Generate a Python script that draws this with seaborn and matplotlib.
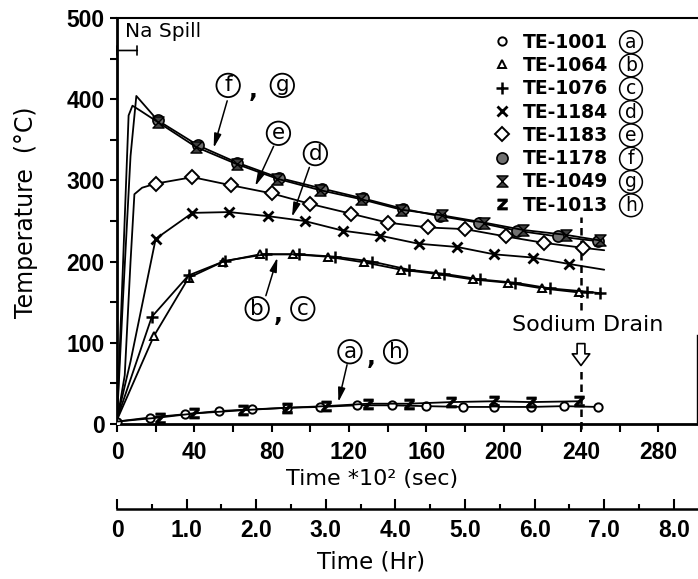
import matplotlib
matplotlib.use("Agg")
import numpy as np
import pandas as pd
import matplotlib.pyplot as plt
import seaborn as sns
from matplotlib.path import Path
from matplotlib.lines import Line2D
from matplotlib.transforms import IdentityTransform

# ---------------- data: time (x10^2 s), temperature (deg C) ----------------
a_time = [0, 17, 35, 53, 70, 88, 105, 124, 142, 160, 179, 195, 214, 231, 249]
a_temp = [3, 8, 12, 16, 18, 20, 21, 23, 23, 22, 21, 21, 21, 22, 21]
b_time = [0, 19, 37, 55, 74, 91, 109, 128, 147, 165, 184, 202, 220, 239]
b_temp = [5, 108, 180, 200, 209, 209, 206, 199, 190, 185, 178, 174, 167, 162]
c_time = [0, 18, 37, 56, 77, 94, 113, 132, 151, 169, 188, 206, 224, 243, 250]
c_temp = [6, 132, 183, 201, 209, 209, 206, 200, 190, 185, 178, 174, 167, 163, 161]
d_time = [0, 7, 20, 39, 58, 78, 97, 117, 136, 156, 176, 195, 215, 234, 252]
d_temp = [6, 77, 228, 260, 261, 256, 250, 238, 232, 222, 218, 209, 205, 197, 190]
e_time = [0, 4, 7, 9, 13, 20, 39, 59, 80, 100, 121, 140, 161, 180, 201, 221, 241, 252]
e_temp = [4, 60, 200, 283, 291, 296, 304, 294, 284, 271, 259, 248, 242, 240, 231, 223, 217, 214]
f_time = [0, 3, 7, 10, 21, 42, 62, 84, 106, 127, 148, 167, 187, 207, 228, 249]
f_temp = [5, 150, 330, 404, 374, 343, 322, 303, 290, 278, 265, 256, 248, 238, 231, 225]
g_time = [0, 3, 6, 8, 12, 21, 41, 62, 83, 105, 126, 147, 168, 190, 210, 232, 250]
g_temp = [4, 190, 380, 392, 386, 372, 341, 320, 302, 288, 277, 264, 257, 248, 239, 233, 226]
h_time = [0, 22, 40, 65, 88, 108, 130, 151, 173, 195, 214, 239]
h_temp = [3, 8, 13, 17, 20, 22, 25, 25, 27, 28, 27, 28]

sensor_names = ["TE-1001", "TE-1064", "TE-1076", "TE-1184",
                "TE-1183", "TE-1178", "TE-1049", "TE-1013"]
sensor_tags = ["a", "b", "c", "d", "e", "f", "g", "h"]
drain_time = 240
x_ticks = [0, 40, 80, 120, 160, 200, 240, 280]
y_ticks = [0, 100, 200, 300, 400, 500]
hr_ticks = [0, 1, 2, 3, 4, 5, 6, 7, 8]
hr_labels = ["0", "1.0", "2.0", "3.0", "4.0", "5.0", "6.0", "7.0", "8.0"]

series = {
    "a": (a_time, a_temp), "b": (b_time, b_temp), "c": (c_time, c_temp),
    "d": (d_time, d_temp), "e": (e_time, e_temp), "f": (f_time, f_temp),
    "g": (g_time, g_temp), "h": (h_time, h_temp),
}

# ---------------- style ----------------
sns.set_theme(style="white")
plt.rcParams["font.family"] = ["DejaVu Sans"]
plt.rcParams["mathtext.fontset"] = "dejavusans"
for k in ["text.color", "axes.labelcolor", "xtick.color", "ytick.color", "axes.edgecolor"]:
    plt.rcParams[k] = "black"

hourglass = Path([(-1, 1), (1, 1), (-1, -1), (1, -1), (-1, 1)],
                 [Path.MOVETO, Path.LINETO, Path.LINETO, Path.LINETO, Path.CLOSEPOLY])

mstyle = {
    "a": dict(marker="o", markersize=6, markerfacecolor="white", markeredgewidth=1.4),
    "b": dict(marker="^", markersize=6, markerfacecolor="white", markeredgewidth=1.4),
    "c": dict(marker="+", markersize=9, markerfacecolor="black", markeredgewidth=1.8),
    "d": dict(marker="x", markersize=7, markerfacecolor="black", markeredgewidth=2.0),
    "e": dict(marker="D", markersize=7.5, markerfacecolor="white", markeredgewidth=1.4),
    "f": dict(marker="o", markersize=8, markerfacecolor="#707070", markeredgewidth=1.2),
    "g": dict(marker=hourglass, markersize=8, markerfacecolor="#404040", markeredgewidth=1.0),
    "h": dict(marker=r"$\mathbf{z}$", markersize=8, markerfacecolor="black", markeredgewidth=0.4),
}
mark_range = {"a": slice(0, None), "b": slice(1, None), "c": slice(1, None),
              "d": slice(2, 14), "e": slice(5, 17), "f": slice(4, None),
              "g": slice(5, None), "h": slice(1, None)}

W, H = 698, 579
fig = plt.figure(figsize=(W / 100, H / 100), dpi=100)
fig.patch.set_facecolor("white")
ax = fig.add_axes([117 / W, 1 - 424 / H, 580 / W, 406 / H])
ax.set_facecolor("white")

for tag in sensor_tags:
    t, v = series[tag]
    df = pd.DataFrame({"time": t, "temp": v})
    sns.lineplot(data=df, x="time", y="temp", ax=ax, color="black", linewidth=1.3,
                 estimator=None, sort=False, markeredgecolor="black",
                 markevery=mark_range[tag], zorder=3, **mstyle[tag])

ax.set_xlim(0, 300)
ax.set_ylim(0, 500)

tickfont = dict(fontfamily="Liberation Sans", fontweight="bold", fontsize=16.5, color="black")
ax.set_xticks(x_ticks, [str(v) for v in x_ticks], **tickfont)
ax.set_xticks([v + 20 for v in x_ticks[:-1]], minor=True)
ax.set_yticks(y_ticks, [str(v) for v in y_ticks], **tickfont)
ax.set_yticks([v + 50 for v in y_ticks[:-1]], minor=True)
ax.tick_params(axis="x", which="both", direction="out", length=6, width=1.5,
               pad=6, color="black", bottom=True)
ax.tick_params(axis="y", which="both", direction="out", length=5, width=1.5,
               pad=4, color="black", left=True)

for side, lw in [("left", 2.0), ("bottom", 2.0), ("top", 1.5), ("right", 1.0)]:
    ax.spines[side].set_color("black")
    ax.spines[side].set_linewidth(lw)
ax.spines["right"].set_bounds(0, 110)

ax.set_xlabel("Time *10² (sec)", fontsize=16, color="black")
ax.xaxis.set_label_coords(0.44, -0.11)
ax.set_ylabel("Temperature  (°C)", fontsize=17, color="black")
ax.yaxis.set_label_coords(-0.136, 0.522)

# secondary hour axis
sec = ax.secondary_xaxis(-0.209, functions=(lambda t: t / 36.0, lambda h: h * 36.0))
sec.set_xticks(hr_ticks, hr_labels, **tickfont)
sec.set_xticks([h + 0.5 for h in hr_ticks[:-1]], minor=True)
sec.tick_params(which="major", direction="in", length=7, width=1.5, pad=7, color="black")
sec.tick_params(which="minor", direction="in", length=3.5, width=1.5, color="black")
sec.spines["bottom"].set_linewidth(1.8)
sec.spines["bottom"].set_color("black")
fig.text(371 / W, 1 - 562 / H, "Time (Hr)", ha="center", va="center", fontsize=16.5,
         color="black")

# ---------------- legend ----------------
handles = [Line2D([], [], linestyle="none", color="black", markeredgecolor="black",
                  **mstyle[t]) for t in sensor_tags]
leg = ax.legend(handles, sensor_names, loc="upper left", bbox_to_anchor=(0.645, 0.964),
                frameon=False, prop=dict(family="DejaVu Sans", weight="bold", size=13.5),
                handlelength=1.2, handletextpad=0.5, labelspacing=0.23,
                borderpad=0, borderaxespad=0)
for txt in leg.get_texts():
    txt.set_color("black")

circ = dict(boxstyle="circle,pad=0.1", fc="white", ec="black", lw=1.1)
fig.canvas.draw()
renderer = fig.canvas.get_renderer()
for txt, tag in zip(leg.get_texts(), sensor_tags):
    bb = txt.get_window_extent(renderer)
    fig.text(631, (bb.y0 + bb.y1) / 2, tag, transform=IdentityTransform(),
             ha="center", va="center", fontsize=13.5, bbox=circ, color="black")

# ---------------- annotations ----------------
circ2 = dict(boxstyle="circle,pad=0.08", fc="white", ec="black", lw=1.3)
arrow = dict(arrowstyle="-|>,head_length=0.7,head_width=0.18", color="black",
             lw=1.1, shrinkA=0, shrinkB=0)


def tagged(letters, x0, dx, y, start, tip):
    for i, L in enumerate(letters):
        ax.text(x0 + i * 2 * dx, y, L, ha="center", va="center", fontsize=15.5,
                bbox=circ2, zorder=5)
        if i < len(letters) - 1:
            ax.text(x0 + (2 * i + 1) * dx - 1, y - 6, ",", ha="center", va="center",
                    fontsize=17, fontweight="bold", zorder=5)
    ax.annotate("", xy=tip, xytext=start, arrowprops=arrow, zorder=4)


tagged(["f", "g"], 57.5, 14, 417, (57, 398), (50, 340))
tagged(["e"], 83.5, 0, 358, (81, 342), (71.5, 293))
tagged(["d"], 102.6, 0, 333, (99.5, 316), (90.5, 255))
tagged(["b", "c"], 72.5, 11.8, 142, (77, 158), (83, 205))
tagged(["a", "h"], 120.5, 11.8, 89, (119, 73), (114.5, 27))

ax.text(4, 483, "Na Spill", ha="left", va="center", fontsize=14.5)
ax.annotate("", xy=(0, 460), xytext=(10.5, 460),
            arrowprops=dict(arrowstyle="|-|,widthA=0.25,widthB=0.25", color="black",
                            lw=1.2, shrinkA=0, shrinkB=0))

ax.text(drain_time + 3.5, 122, "Sodium Drain", ha="center", va="center", fontsize=16)
ax.annotate("", xy=(drain_time, 72), xytext=(drain_time, 99),
            arrowprops=dict(arrowstyle="simple,head_length=0.6,head_width=0.9,tail_width=0.4",
                            fc="white", ec="black", lw=1.2, shrinkA=0, shrinkB=0,
                            mutation_scale=14))
ax.vlines(drain_time, 140, 255, colors="black", linestyles=(0, (3, 2)), lw=1.8)
ax.vlines(drain_time, -6, 68, colors="black", linestyles=(0, (3, 2)), lw=1.8, clip_on=False)

fig.savefig("out.png", dpi=100, facecolor="white")
